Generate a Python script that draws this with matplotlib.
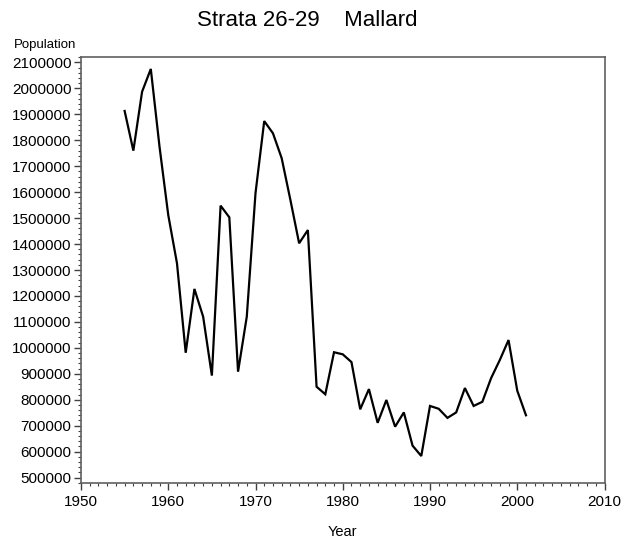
import matplotlib
matplotlib.use("Agg")
import matplotlib.pyplot as plt
from matplotlib.ticker import MultipleLocator

plt.rcParams['font.family'] = ['Liberation Sans', 'DejaVu Sans']

years = list(range(1955, 2002))
population = [1913000, 1760000, 1987000, 2075000, 1775000, 1512000, 1326000,
              981000, 1227000, 1120000, 893000, 1548000, 1503000, 908000,
              1120000, 1596000, 1874000, 1827000, 1731000, 1570000, 1403000,
              1454000, 850000, 821000, 983000, 975000, 945000, 763000,
              841000, 711000, 799000, 696000, 751000, 623000, 583000,
              776000, 765000, 730000, 751000, 845000, 776000, 792000,
              883000, 953000, 1030000, 835000, 740000]
x_ticks = [1950, 1960, 1970, 1980, 1990, 2000, 2010]
y_ticks = list(range(500000, 2100001, 100000))

fig = plt.figure(figsize=(6.36, 5.40), dpi=100)
W, H = 636, 540
left, right, top, bottom = 81, 604.5, 57, 483
ax = fig.add_axes([left / W, 1 - bottom / H, (right - left) / W, (bottom - top) / H])

ax.plot(years, population, color='black', linewidth=1.6, solid_joinstyle='miter')

ax.set_xlim(1950, 2010)
ax.set_ylim(479000, 2121000)
ax.set_xticks(x_ticks)
ax.set_xticklabels([str(t) for t in x_ticks])
ax.xaxis.set_minor_locator(MultipleLocator(1))
ax.set_yticks(y_ticks)
ax.set_yticklabels([str(t) for t in y_ticks])
ax.yaxis.set_minor_locator(MultipleLocator(20000))

for s in ax.spines.values():
    s.set_color('#606060')
    s.set_linewidth(1.2)

ax.tick_params(axis='both', which='major', direction='out', length=5, width=1,
               color='#404040', labelsize=11, pad=2)
ax.tick_params(axis='x', which='major', pad=4)
ax.tick_params(axis='both', which='minor', direction='out', length=2.5, width=0.8,
               color='#404040')

ax.set_xlabel('Year', fontsize=10.5, labelpad=11)
fig.text(14 / W, 1 - 45 / H, 'Population', fontsize=9.5, ha='left', va='center')
fig.text(307 / W, 1 - 20 / H, 'Strata 26-29    Mallard', fontsize=16,
         ha='center', va='center')

fig.savefig('out.png', dpi=100, facecolor='white')
